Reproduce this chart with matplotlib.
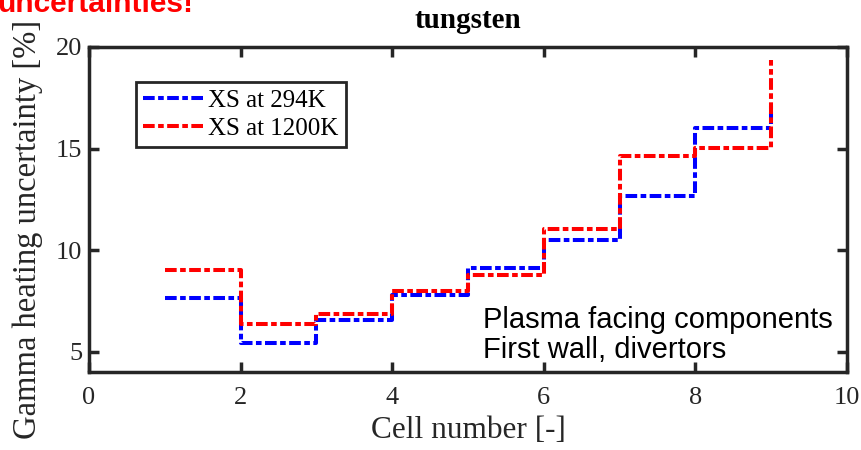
import numpy as np
import matplotlib
matplotlib.use("Agg")
import matplotlib.pyplot as plt

# gamma heating uncertainty per cell, tungsten
cells = [1, 2, 3, 4, 5, 6, 7, 8, 9]
unc_294K = [7.65, 5.45, 6.55, 7.8, 9.1, 10.5, 12.67, 16.0, 17.1]
unc_1200K = [9.0, 6.35, 6.85, 8.0, 8.78, 11.05, 14.65, 15.02, 19.35]
labels = ["XS at 294K", "XS at 1200K"]

serif = "Liberation Serif"
sans = "Liberation Sans"
axcol = "#262626"

fig = plt.figure(figsize=(8.62, 4.5), dpi=100)
ax = fig.add_axes([0.1032, 0.1733, 0.8794, 0.7223])

dash = (0, (2.9, 0.85, 1.4, 0.85))
ax.step(cells, unc_294K, where="post", color="#0000ff", lw=2.9, linestyle=dash,
        dash_capstyle="butt", label=labels[0])
ax.step(cells, unc_1200K, where="post", color="#ff0000", lw=2.9, linestyle=dash,
        dash_capstyle="butt", label=labels[1])

ax.set_xlim(0, 10)
ax.set_ylim(4, 20)
ax.set_xticks([0, 2, 4, 6, 8, 10])
ax.set_yticks([5, 10, 15, 20])
ax.tick_params(direction="in", length=7, width=2.5, color=axcol,
               top=True, right=True, labelsize=19, labelcolor=axcol)
ax.tick_params(axis="x", pad=11)
ax.tick_params(axis="y", pad=5)
for lab in ax.get_xticklabels() + ax.get_yticklabels():
    lab.set_family(serif)
for sp in ax.spines.values():
    sp.set_linewidth(2.5)
    sp.set_color(axcol)

ax.set_xlabel("Cell number [-]", fontsize=22.5, family=serif, color=axcol, labelpad=5)
ax.set_ylabel("Gamma heating uncertainty [%]", fontsize=23.5, family=serif, color=axcol)
ax.yaxis.set_label_coords(-0.060, 0.44)
ax.set_title("tungsten", fontsize=21, family=serif, weight="bold", pad=14)

leg = ax.legend(loc="upper left", bbox_to_anchor=(0.062, 0.892), prop={"family": serif, "size": 18},
                fancybox=False, framealpha=1, edgecolor=axcol, handlelength=2.4,
                handletextpad=0.2, borderpad=0.3, labelspacing=0.2, borderaxespad=0)
leg.get_frame().set_linewidth(2)

ax.text(0.52, 0.025, "Plasma facing components\nFirst wall, divertors", transform=ax.transAxes,
        ha="left", va="bottom", fontsize=21, family=sans, linespacing=1.1)

fig.text(-0.003, 1 - 12 / 450, "uncertainties!", color="#ff0000", fontsize=21.5,
         family=sans, weight="bold", va="baseline", ha="left")

fig.savefig("out.png", dpi=100)
